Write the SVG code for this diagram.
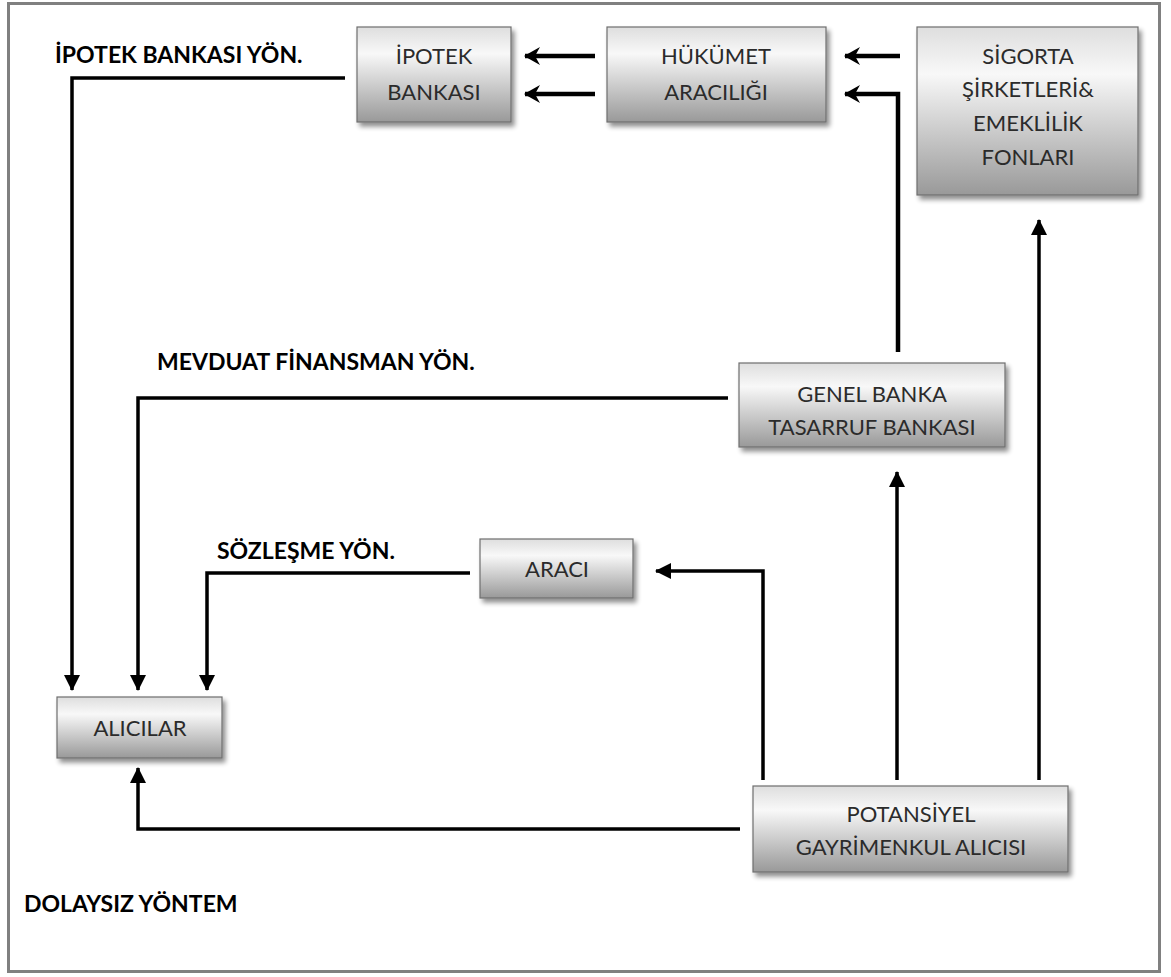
<svg xmlns="http://www.w3.org/2000/svg" width="1171" height="977" viewBox="0 0 1171 977">
<defs>
<linearGradient id="g" x1="0" y1="0" x2="0" y2="1">
<stop offset="0" stop-color="#dedede"/>
<stop offset="0.28" stop-color="#f8f8f8"/>
<stop offset="1" stop-color="#999999"/>
</linearGradient>
<filter id="sh" x="-10%" y="-10%" width="125%" height="130%">
<feGaussianBlur in="SourceAlpha" stdDeviation="2.5"/>
<feOffset dx="3" dy="4" result="b"/>
<feComponentTransfer><feFuncA type="linear" slope="0.45"/></feComponentTransfer>
<feMerge><feMergeNode/><feMergeNode in="SourceGraphic"/></feMerge>
</filter>
<marker id="ah" viewBox="0 0 16 16" refX="15" refY="8" markerWidth="16" markerHeight="16" markerUnits="userSpaceOnUse" orient="auto">
<path d="M0,0 L16,8 L0,16 Z" fill="#000"/>
</marker>
<marker id="ahb" viewBox="0 0 16 18" refX="15" refY="9" markerWidth="16" markerHeight="18" markerUnits="userSpaceOnUse" orient="auto">
<path d="M0,9 L16,0 L11,9 L16,18 Z" transform="rotate(180 8 9)" fill="#000"/>
</marker>
</defs>
<style>
.box{fill:url(#g);stroke:#6e6e6e;stroke-width:1.2;filter:url(#sh)}
.t{font-family:Lato,"Open Sans","Liberation Sans",sans-serif;font-size:22px;fill:#2b2b2b;text-anchor:middle}
.lb{font-family:Lato,"Open Sans","Liberation Sans",sans-serif;font-size:23px;font-weight:700;fill:#000}
.ca{fill:none;stroke:#000;stroke-width:3.5;marker-end:url(#ah)}
.cb{fill:none;stroke:#000;stroke-width:4.5;marker-end:url(#ahb)}
</style>
<rect x="0" y="0" width="1171" height="977" fill="#fff"/>
<rect x="8.5" y="3.5" width="1151" height="968" fill="none" stroke="#808080" stroke-width="3"/>

<g id="labels">
<text class="lb" x="55" y="63">İPOTEK BANKASI YÖN.</text>
<text class="lb" x="157" y="370">MEVDUAT FİNANSMAN YÖN.</text>
<text class="lb" x="217" y="559">SÖZLEŞME YÖN.</text>
<text class="lb" x="24" y="912">DOLAYSIZ YÖNTEM</text>
</g>

<g id="connectors">
<polyline class="ca" points="345,78 72,78 72,690"/>
<polyline class="ca" points="728,398 138,398 138,690"/>
<polyline class="ca" points="470,573 207,573 207,690"/>
<polyline class="ca" points="740,829 138,829 138,768"/>
<polyline class="ca" points="763,780 763,571 656,571"/>
<polyline class="ca" points="897,780 897,472"/>
<polyline class="ca" points="1039,780 1039,220"/>
<polyline class="cb" points="898,352 898,94 845,94"/>
<line class="cb" x1="900" y1="56" x2="845" y2="56"/>
<line class="cb" x1="595" y1="56" x2="525" y2="56"/>
<line class="cb" x1="595" y1="94" x2="525" y2="94"/>
</g>

<g id="ipotek">
<rect class="box" x="357" y="27" width="154" height="95"/>
<text class="t" x="434" y="64">İPOTEK</text>
<text class="t" x="434" y="100">BANKASI</text>
</g>
<g id="hukumet">
<rect class="box" x="607" y="27" width="219" height="95"/>
<text class="t" x="716" y="64">HÜKÜMET</text>
<text class="t" x="716" y="100">ARACILIĞI</text>
</g>
<g id="sigorta">
<rect class="box" x="917" y="27" width="221" height="168"/>
<text class="t" x="1028" y="64">SİGORTA</text>
<text class="t" x="1028" y="97">ŞİRKETLERİ&amp;</text>
<text class="t" x="1028" y="131">EMEKLİLİK</text>
<text class="t" x="1028" y="165">FONLARI</text>
</g>
<g id="genel">
<rect class="box" x="739" y="363" width="266" height="84"/>
<text class="t" x="872" y="402">GENEL BANKA</text>
<text class="t" x="872" y="435">TASARRUF BANKASI</text>
</g>
<g id="araci">
<rect class="box" x="480" y="539" width="153" height="59"/>
<text class="t" x="557" y="577">ARACI</text>
</g>
<g id="alicilar">
<rect class="box" x="57" y="697" width="165" height="61"/>
<text class="t" x="140" y="736">ALICILAR</text>
</g>
<g id="potansiyel">
<rect class="box" x="753" y="786" width="315" height="86"/>
<text class="t" x="911" y="822">POTANSİYEL</text>
<text class="t" x="911" y="855">GAYRİMENKUL ALICISI</text>
</g>
</svg>
